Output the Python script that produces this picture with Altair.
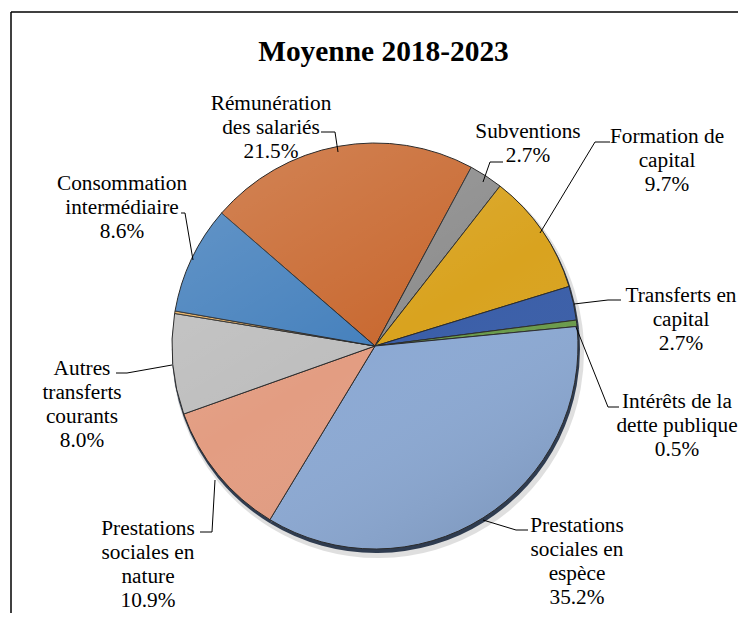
import math
import altair as alt
import pandas as pd

# ---- data ----
categories = [
    "Rémunération des salariés", "Subventions", "Formation de capital",
    "Transferts en capital", "Intérêts de la dette publique",
    "Prestations sociales en espèce", "Prestations sociales en nature",
    "Autres transferts courants", "Autres", "Consommation intermédiaire",
]
values = [21.5, 2.7, 9.7, 2.7, 0.5, 35.2, 10.9, 8.0, 0.2, 8.6]
colors = ["#C96A32", "#8E8E8E", "#D9A31F", "#3A5EA8", "#6A9B4A",
          "#8CA9D3", "#E39D82", "#BEBEBE", "#E8B060", "#4681BD"]

label_texts = [
    "Rémunération\ndes salariés\n21.5%",
    "Subventions\n2.7%",
    "Formation de\ncapital\n9.7%",
    "Transferts en\ncapital\n2.7%",
    "Intérêts de la\ndette publique\n0.5%",
    "Prestations\nsociales en\nespèce\n35.2%",
    "Prestations\nsociales en\nnature\n10.9%",
    "Autres\ntransferts\ncourants\n8.0%",
    "Consommation\nintermédiaire\n8.6%",
]
title_text = "Moyenne 2018-2023"

# ---- layout (image pixel coordinates) ----
W, H = 730, 605
CX, CY, R = 375, 346, 203
START = math.radians(-49.1)

label_x = [271, 528, 667, 681, 677, 577, 148, 82, 122]
label_y = [110, 138, 143, 302, 408, 532, 535, 375, 190]

leaders = [
    [(321, 132), (335, 132), (338, 152)],
    [(503, 162), (490, 162), (483, 182)],
    [(610, 142), (595, 142), (540, 233)],
    [(621, 300), (608, 300), (574, 304)],
    [(576, 327), (608, 407), (619, 407)],
    [(483, 520), (516, 530), (528, 530)],
    [(215, 480), (212, 532), (200, 532)],
    [(172, 365), (127, 373), (116, 373)],
    [(181, 213), (185, 213), (193, 260)],
]

FONT = "Liberation Serif"

pie_df = pd.DataFrame({"name": categories, "value": values, "idx": range(len(values))})
xs = alt.Scale(domain=[8, 8 + W], range=[0, W])
ys = alt.Scale(domain=[8, 8 + H], range=[0, H])

theta_enc = alt.Theta("value:Q", stack=True,
                      scale=alt.Scale(range=[START, START + 2 * math.pi]))

shadow2 = alt.Chart(pie_df).mark_arc(radius=R + 3, color="#7f7f7f", opacity=0.25).encode(
    theta=theta_enc, order=alt.Order("idx:Q"),
    x=alt.value(CX - 8 + 3), y=alt.value(CY - 8 + 6))
shadow1 = alt.Chart(pie_df).mark_arc(radius=R + 1, color="#1c2a40", opacity=0.9).encode(
    theta=theta_enc, order=alt.Order("idx:Q"),
    x=alt.value(CX - 8 + 1), y=alt.value(CY - 8 + 3))

pie = alt.Chart(pie_df).mark_arc(radius=R, stroke="#2b2b2b", strokeWidth=1).encode(
    theta=theta_enc,
    order=alt.Order("idx:Q"),
    color=alt.Color("name:N", scale=alt.Scale(domain=categories, range=colors), legend=None),
    x=alt.value(CX - 8), y=alt.value(CY - 8),
)

shade = alt.Chart(pd.DataFrame({"v": [1]})).mark_arc(
    radius=R - 0.5, theta=0, theta2=2 * math.pi,
    fill=alt.Gradient(
        gradient="linear", x1=0.2, y1=0, x2=0.8, y2=1,
        stops=[alt.GradientStop(color="rgba(255,255,255,0.16)", offset=0),
               alt.GradientStop(color="rgba(255,255,255,0.0)", offset=0.5),
               alt.GradientStop(color="rgba(0,0,0,0.10)", offset=1)],
    ),
).encode(x=alt.value(CX - 8), y=alt.value(CY - 8))

lead_rows = []
for i, pts in enumerate(leaders):
    for k, (px, py) in enumerate(pts):
        lead_rows.append({"g": i, "k": k, "px": px, "py": py})
lead_df = pd.DataFrame(lead_rows)
lines = alt.Chart(lead_df).mark_line(color="black", strokeWidth=1).encode(
    x=alt.X("px:Q", scale=xs, axis=None),
    y=alt.Y("py:Q", scale=ys, axis=None),
    detail="g:N", order="k:Q",
)

lab_df = pd.DataFrame({"t": label_texts, "px": label_x, "py": label_y})
labels = alt.Chart(lab_df).mark_text(
    font=FONT, fontSize=21.3, lineBreak="\n", lineHeight=24,
    align="center", baseline="alphabetic", color="black",
).encode(
    x=alt.X("px:Q", scale=xs, axis=None),
    y=alt.Y("py:Q", scale=ys, axis=None),
    text="t:N",
)

title = alt.Chart(pd.DataFrame({"t": [title_text], "px": [383.5], "py": [61]})).mark_text(
    font=FONT, fontSize=29.4, fontWeight="bold", align="center", baseline="alphabetic",
    color="black",
).encode(
    x=alt.X("px:Q", scale=xs, axis=None),
    y=alt.Y("py:Q", scale=ys, axis=None),
    text="t:N",
)

frame_top = alt.Chart(pd.DataFrame({"a": [0]})).mark_rule(color="black", strokeWidth=1.5).encode(
    x=alt.value(11 - 8), x2=alt.value(W), y=alt.value(12 - 8))
frame_left = alt.Chart(pd.DataFrame({"a": [0]})).mark_rule(color="black", strokeWidth=1.5).encode(
    x=alt.value(11 - 8), y=alt.value(12 - 8), y2=alt.value(H))

chart = alt.layer(
    frame_top, frame_left, shadow2, shadow1, pie, shade, lines, labels, title
).properties(
    width=W, height=H, padding=0, autosize=alt.AutoSizeParams(type="none"),
    background="white",
).configure_view(stroke=None)

chart.save("out.html", embed_options={"renderer": "svg", "actions": False})
